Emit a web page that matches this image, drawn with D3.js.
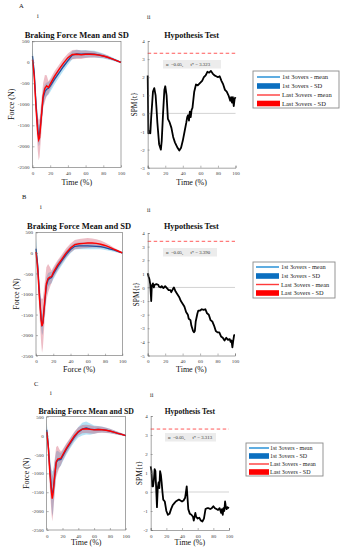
<!DOCTYPE html>
<html><head><meta charset="utf-8">
<script src="https://cdn.jsdelivr.net/npm/d3@7"></script>
<style>body{margin:0;background:#fff}svg{display:block}</style>
</head><body>
<svg id="c" width="343" height="550"></svg>
<script>
// ---------- DATA ----------
const forceTime = [0,2,4,6,7,8,10,12,14,16,18,20,25,30,35,40,45,50,55,60,65,70,75,80,85,90,95,100];
const forceTicksY = [500,0,-500,-1000,-1500,-2000,-2500];
const timeTicks = [0,20,40,60,80,100];

const blueMeanA = [150,-250,-1000,-1600,-1750,-1700,-1300,-850,-700,-640,-620,-570,-400,-250,-100,40,170,200,195,200,200,195,175,150,115,80,40,0];
const blueSdA   = [200,150,200,250,250,250,230,200,180,160,150,140,120,110,100,100,100,100,90,90,80,80,70,60,50,40,30,20];
const redMeanA  = [60,-350,-1100,-1700,-1850,-1800,-1300,-800,-620,-560,-600,-520,-330,-170,-20,110,185,190,180,190,190,185,170,150,120,80,40,0];
const redSdA    = [150,200,300,420,480,450,380,300,320,250,150,130,120,110,110,100,110,110,100,90,80,70,60,50,40,30,20,15];

const blueMeanB = [100,-300,-1000,-1600,-1750,-1700,-1250,-800,-660,-620,-600,-520,-340,-190,-40,80,160,170,170,170,165,160,150,130,100,70,35,0];
const blueSdB   = [250,150,200,250,250,250,220,200,170,150,140,130,120,110,100,90,80,80,80,80,80,70,60,60,50,40,30,20];
const redMeanB  = [20,-400,-1100,-1650,-1780,-1700,-1200,-750,-620,-590,-580,-480,-300,-150,0,120,200,220,230,240,240,230,210,180,140,90,45,0];
const redSdB    = [150,250,400,550,650,600,450,400,350,250,150,130,120,110,110,110,110,120,120,120,110,100,90,70,60,40,30,20];

const blueMeanC = [150,-250,-900,-1400,-1530,-1500,-1100,-720,-650,-640,-630,-550,-360,-200,-40,90,170,200,170,160,165,160,145,120,90,60,30,0];
const blueSdC   = [200,200,350,500,600,550,400,300,250,200,170,150,140,130,130,140,170,170,150,110,90,80,70,60,50,40,30,20];
const redMeanC  = [100,-300,-1000,-1500,-1670,-1550,-1100,-700,-620,-610,-600,-520,-330,-170,-10,110,170,180,165,150,160,155,140,120,90,60,30,0];
const redSdC    = [150,250,400,550,600,550,450,400,350,250,180,150,130,120,110,110,110,110,110,100,90,80,70,60,50,40,30,20];

const spmTimeA = [0,0.8,2,3,4,5,6,7.5,9,10,11,13,15,16,17.5,19,20,21.5,23,25,27,29,31,34,36,38,40,42,44,45,46,47,48,49,50,51,53,55,57,60,62,64,66,68,70,72,74,76,78,80,82,84,86,88,90,92,94,95,96,97,98,99,100];
const spmA     = [2.1,-1.1,-1.0,-1.1,-0.2,0.5,1.2,1.4,1.0,0.3,-0.5,-1.7,-2.0,-1.5,0,1.3,1.5,1.0,-0.3,-0.5,-0.8,-1.3,-1.6,-1.9,-2.05,-1.9,-1.5,-1.0,-0.5,-0.2,-0.1,-0.4,0.1,-0.2,0.2,0.3,1.2,1.6,1.55,1.7,1.8,2.0,2.1,2.3,2.25,2.35,2.2,2.1,2.05,2.0,2.05,1.8,1.6,1.3,1.2,1.0,0.7,0.9,0.6,0.9,0.4,0.8,0.9];
const spmTimeB = [0,1,2,3,4,4.7,6,7,8,10,12,13,15,16,18,20,22,24,26,27,29,30,32,34,36,38,40,42,44,46,47,49,50,52,53,54,55,57,58,60,62,64,66,68,70,72,74,76,78,80,82,84,86,88,90,92,94,95,96,97,98,99,100];
const spmB     = [1.05,0.8,0.6,0.2,-1.0,0.1,0.3,0,0.2,0.25,0.2,0.05,0,0.1,-0.05,0.1,-0.05,-0.2,-0.2,-0.35,-0.1,0,-0.3,-0.5,-0.7,-1.0,-1.2,-1.4,-1.8,-2.0,-2.3,-2.4,-2.8,-3.2,-3.3,-3.2,-2.5,-1.9,-1.7,-1.7,-1.6,-1.65,-1.6,-1.9,-2.0,-2.4,-2.5,-2.8,-3.2,-3.3,-3.3,-3.6,-3.7,-3.9,-3.7,-3.85,-3.8,-4.0,-3.9,-4.4,-3.9,-3.5,-3.5];
const spmTimeC = [0,1,2,3,4,5,6,7,8,9,10,11,12,13,14,15,16,18,20,22,24,26,28,30,32,34,36,38,40,42,44,45,46,47,48,50,52,54,55,56,57,58,60,62,64,66,68,70,72,74,76,78,80,82,84,86,88,90,91,92,93,94,95,96,97,98,100];
const spmC     = [1.35,1.1,0.3,0.3,0.6,1.2,1.1,0.2,-0.8,0.2,0.5,0.2,1.1,0.9,0.5,0,-0.4,-0.5,-1.0,-1.2,-1.15,-0.9,-0.7,-0.6,-0.5,-0.45,-0.4,-0.45,-0.5,-0.45,-0.3,0,0.3,-0.3,-0.9,-1.15,-1.2,-1.3,-1.5,-1.3,-1.1,-1.3,-1.4,-1.35,-1.5,-1.55,-1.4,-0.9,-0.85,-0.85,-0.9,-0.85,-0.75,-0.85,-0.9,-0.95,-0.85,-1.1,-0.9,-1.2,-0.85,-1.0,-0.5,-0.8,-0.9,-0.8,-0.85];

const spmTicksA = [-3,-2,-1,0,1,2,3,4];
const spmTicksB = [-5,-4,-3,-2,-1,0,1,2,3,4];
const spmTicksC = [-2,-1,0,1,2,3,4];
const thresholds = [3.323, 3.390, 3.313];
const panelLetters = ['A','B','C'];
const legendLabels = ['1st 3overs - mean','1st 3overs - SD','Last 3overs - mean','Last 3overs - SD'];
const leftTitle = 'Braking Force Mean and SD';
const rightTitle = 'Hypothesis Test';
const leftXLabels = ['Time (%)','Force (%)','Time (%)'];

// ---------- LAYOUT ----------
const FONT = '"Liberation Serif","Times New Roman",serif';
const svg = d3.select('#c');
svg.append('rect').attr('width',343).attr('height',550).attr('fill','#fff');

const layout = [
  {letter:[19,8], i:[37,18], ii:[147,19], titleY:38, titleFs:8.5,
   L:{x0:32.5,x1:121,y0:41.3,y1:167.3}, R:{x0:147.7,x1:235.5,y0:41,y1:167.7},
   xlabY:185, ylabL:12, ylabR:135,
   box:{x:163,y:60,w:58,h:8.5},
   leg:{x:253,y:71,w:86,h:37,rows:[77,86,95,103.5],sx0:257,sx1:280,tx:282,fs:6.5},
   fm:[blueMeanA,blueSdA,redMeanA,redSdA], st:spmTimeA, sv:spmA, sd:[-3,4], stk:spmTicksA},
  {letter:[22,199], i:[40,209], ii:[147,212], titleY:229, titleFs:8.5,
   L:{x0:36,x1:122.3,y0:232.3,y1:355.7}, R:{x0:147.7,x1:235,y0:233,y1:355.5},
   xlabY:372, ylabL:16, ylabR:136,
   box:{x:163,y:248,w:54,h:8.5},
   leg:{x:253,y:262,w:82,h:36,rows:[267,276,284.5,293],sx0:256,sx1:279,tx:281,fs:6.3},
   fm:[blueMeanB,blueSdB,redMeanB,redSdB], st:spmTimeB, sv:spmB, sd:[-5,4], stk:spmTicksB},
  {letter:[34,386], i:[50,395], ii:[150,397], titleY:414, titleFs:7.8,
   L:{x0:46.7,x1:125.7,y0:416.7,y1:530}, R:{x0:150.7,x1:229,y0:416,y1:530},
   xlabY:545, ylabL:27, ylabR:139,
   box:{x:165,y:433,w:51,h:8.5},
   leg:{x:246,y:443,w:77,h:33,rows:[448,456,464,472],sx0:249,sx1:269,tx:270,fs:6},
   fm:[blueMeanC,blueSdC,redMeanC,redSdC], st:spmTimeC, sv:spmC, sd:[-2,4], stk:spmTicksC}
];

const BLUE_LINE = '#1f4f9f', RED_LINE = '#ff0000';
const BLUE_FILL = '#5cc0ec', RED_FILL = '#c8324f';
const AX = '#6a6a6a', TICKTXT = '#3a3a3a';
const tickFmt = d => String(d);

function txt(g, x, y, s, fs, opts={}) {
  const t = g.append('text').attr('x',x).attr('y',y).text(s)
    .attr('font-family',FONT).attr('font-size',fs).attr('fill',opts.fill||'#111')
    .style('white-space','pre');
  if (opts.anchor) t.attr('text-anchor',opts.anchor);
  if (opts.bold) t.attr('font-weight','bold');
  if (opts.rot) t.attr('transform',`rotate(-90,${x},${y})`);
  return t;
}

layout.forEach((P, k) => {
  const g = svg.append('g');
  txt(g, P.letter[0], P.letter[1], panelLetters[k], 6.5);
  txt(g, P.i[0], P.i[1], 'i', 6);
  txt(g, P.ii[0], P.ii[1], 'ii', 6);

  // ----- left force plot -----
  const L = P.L;
  const x = d3.scaleLinear().domain([0,100]).range([L.x0,L.x1]);
  const y = d3.scaleLinear().domain([-2500,500]).range([L.y1,L.y0]);
  const [bm,bs,rm,rs] = P.fm;
  const area = (m,s) => d3.area().x((d,i)=>x(forceTime[i])).y0((d,i)=>y(m[i]-s[i])).y1((d,i)=>y(m[i]+s[i]))(m);
  const line = (m) => d3.line().x((d,i)=>x(forceTime[i])).y(d=>y(d))(m);
  g.append('path').attr('d',area(bm,bs)).attr('fill',BLUE_FILL).attr('opacity',0.45);
  g.append('path').attr('d',area(rm,rs)).attr('fill',RED_FILL).attr('opacity',0.32);
  g.append('path').attr('d',line(bm)).attr('fill','none').attr('stroke',BLUE_LINE).attr('stroke-width',1.3);
  g.append('path').attr('d',line(rm)).attr('fill','none').attr('stroke',RED_LINE).attr('stroke-width',1.4);
  g.append('rect').attr('x',L.x0).attr('y',L.y0).attr('width',L.x1-L.x0).attr('height',L.y1-L.y0)
    .attr('fill','none').attr('stroke',AX).attr('stroke-width',0.6);
  const gxL = g.append('g').attr('transform',`translate(0,${L.y1})`)
    .call(d3.axisBottom(x).tickValues(timeTicks).tickFormat(tickFmt).tickSize(-2).tickPadding(4));
  const gyL = g.append('g').attr('transform',`translate(${L.x0},0)`)
    .call(d3.axisLeft(y).tickValues(forceTicksY).tickFormat(tickFmt).tickSize(-2).tickPadding(3));
  [gxL,gyL].forEach(a=>{
    a.select('.domain').remove();
    a.selectAll('line').attr('stroke',AX).attr('stroke-width',0.5);
    a.selectAll('text').attr('font-family',FONT).attr('font-size',5).attr('fill',TICKTXT);
  });
  txt(g,(L.x0+L.x1)/2,P.titleY,leftTitle,P.titleFs,{anchor:'middle',bold:true});
  txt(g,(L.x0+L.x1)/2,P.xlabY,leftXLabels[k],8,{anchor:'middle'});
  txt(g,P.ylabL+2.5,(L.y0+L.y1)/2,'Force (N)',8,{anchor:'middle',rot:true});

  // ----- right SPM plot -----
  const R = P.R;
  const xr = d3.scaleLinear().domain([0,100]).range([R.x0,R.x1]);
  const yr = d3.scaleLinear().domain(P.sd).range([R.y1,R.y0]);
  g.append('line').attr('x1',xr(0)).attr('x2',xr(100)).attr('y1',yr(0)).attr('y2',yr(0))
    .attr('stroke','#c8c8c8').attr('stroke-width',0.8);
  g.append('line').attr('x1',xr(0)).attr('x2',xr(100)).attr('y1',yr(thresholds[k])).attr('y2',yr(thresholds[k]))
    .attr('stroke','#ff5a5a').attr('stroke-width',1).attr('stroke-dasharray','3.5,2.5');
  const B = P.box;
  g.append('rect').attr('x',B.x).attr('y',B.y).attr('width',B.w).attr('height',B.h).attr('fill','#ececec');
  txt(g,B.x+3,B.y+B.h-2.2,'\u03B1  =0.05,      t* = '+thresholds[k].toFixed(3),4.8,{fill:'#333'});
  g.append('path').attr('d',d3.line().x((d,i)=>xr(P.st[i])).y(d=>yr(d))(P.sv))
    .attr('fill','none').attr('stroke','#000').attr('stroke-width',1.8).attr('stroke-linejoin','round');
  const gxR = g.append('g').attr('transform',`translate(0,${R.y1})`)
    .call(d3.axisBottom(xr).tickValues(timeTicks).tickFormat(tickFmt).tickSize(-2).tickPadding(4));
  const gyR = g.append('g').attr('transform',`translate(${R.x0},0)`)
    .call(d3.axisLeft(yr).tickValues(P.stk).tickFormat(tickFmt).tickSize(-2).tickPadding(3));
  [gxR,gyR].forEach(a=>{
    a.select('.domain').attr('stroke',AX).attr('stroke-width',0.6);
    a.selectAll('line').attr('stroke',AX).attr('stroke-width',0.5);
    a.selectAll('text').attr('font-family',FONT).attr('font-size',5).attr('fill',TICKTXT);
  });
  txt(g,(R.x0+R.x1)/2,P.titleY,rightTitle,P.titleFs-0.3,{anchor:'middle',bold:true});
  txt(g,(R.x0+R.x1)/2,P.xlabY,'Time (%)',8,{anchor:'middle'});
  txt(g,P.ylabR+2.5,(R.y0+R.y1)/2,'SPM{t}',7.5,{anchor:'middle',rot:true});

  // ----- legend -----
  const G = P.leg;
  g.append('rect').attr('x',G.x).attr('y',G.y).attr('width',G.w).attr('height',G.h)
    .attr('fill','#fff').attr('stroke','#8a8a8a').attr('stroke-width',0.9);
  const legStyles = [
    {type:'line',c:'#1a8ad4'},{type:'patch',c:'#0b6fc0'},
    {type:'line',c:'#ff3a3a'},{type:'patch',c:'#ff0000'}];
  legStyles.forEach((s,j)=>{
    const yy = G.rows[j];
    if (s.type==='line') g.append('line').attr('x1',G.sx0).attr('x2',G.sx1).attr('y1',yy).attr('y2',yy)
      .attr('stroke',s.c).attr('stroke-width',1.4);
    else g.append('rect').attr('x',G.sx0).attr('y',yy-2.8).attr('width',G.sx1-G.sx0).attr('height',5.6).attr('fill',s.c);
    txt(g,G.tx,yy+2,legendLabels[j],G.fs,{fill:'#222'});
  });
});
</script>
</body></html>
